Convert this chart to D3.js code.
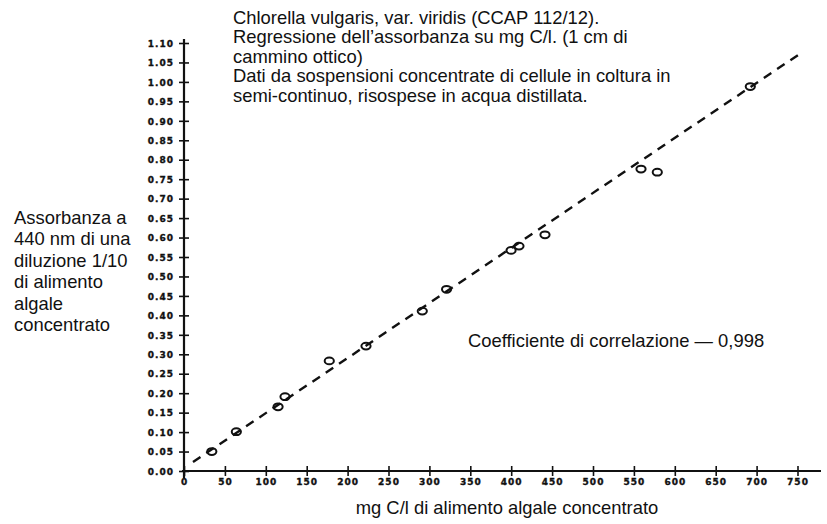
<!DOCTYPE html>
<html><head><meta charset="utf-8">
<script src="https://cdn.jsdelivr.net/npm/d3@7"></script>
<style>body{margin:0;background:#fff;}svg{display:block;}</style>
</head><body>
<script>
const carbon = [34, 64, 115, 123.5, 177.6, 222.5, 291.3, 321, 399.8, 409.5, 441.3, 558.7, 578.6, 692.3];
const absorbance = [0.050, 0.101, 0.165, 0.191, 0.283, 0.321, 0.411, 0.467, 0.567, 0.578, 0.607, 0.776, 0.768, 0.988];
const regressionX = [11, 750.6];
const regressionY = [0.023, 1.069];
const xTicks = d3.range(0, 751, 50);
const yTicks = d3.range(0, 23).map(i => i * 0.05);
const titleLines = ["Chlorella vulgaris, var. viridis (CCAP 112/12).",
  "Regressione dell\u2019assorbanza su mg C/l. (1 cm di",
  "cammino ottico)",
  "Dati da sospensioni concentrate di cellule in coltura in",
  "semi-continuo, risospese in acqua distillata."];
const yLabelLines = ["Assorbanza a", "440 nm di una", "diluzione 1/10", "di alimento", "algale", "concentrato"];
const xLabel = "mg C/l di alimento algale concentrato";
const corrLabel = "Coefficiente di correlazione \u2014 0,998";

const W = 827, H = 524;
const svg = d3.select("body").append("svg").attr("width", W).attr("height", H);
const x = d3.scaleLinear().domain([0, 750]).range([184, 797.5]);
const y = d3.scaleLinear().domain([0, 1.10]).range([471, 43]);
const tickFont = "'DejaVu Sans', sans-serif";

function styleTick(sel) {
  sel.style("font-family", tickFont).style("font-weight", "bold").style("font-size", "9px")
    .style("letter-spacing", "1px").attr("fill", "#111")
    .attr("stroke", "#111").attr("stroke-width", 0.35);
}

// axes
const yAxis = svg.append("g").attr("transform", "translate(184,0)")
  .call(d3.axisLeft(y).tickValues(yTicks).tickFormat(d3.format(".2f")).tickSize(5));
yAxis.select(".domain").remove();
yAxis.selectAll(".tick line").attr("x1", -5).attr("x2", 5).attr("stroke", "#111").attr("stroke-width", 1.6);
yAxis.selectAll(".tick text").attr("x", -10).attr("dy", "0.36em").call(styleTick);

const xAxis = svg.append("g").attr("transform", "translate(0,471)")
  .call(d3.axisBottom(x).tickValues(xTicks).tickFormat(d3.format("d")).tickSize(5));
xAxis.select(".domain").remove();
xAxis.selectAll(".tick line").attr("y1", -5).attr("y2", 5).attr("stroke", "#111").attr("stroke-width", 1.6);
xAxis.selectAll(".tick text").attr("y", 11).attr("dy", "0.36em").call(styleTick);

svg.append("line").attr("x1", 184).attr("x2", 184).attr("y1", 39).attr("y2", 478)
  .attr("stroke", "#111").attr("stroke-width", 2.2);
svg.append("line").attr("x1", 182).attr("x2", 821).attr("y1", 471).attr("y2", 471)
  .attr("stroke", "#111").attr("stroke-width", 2);

// regression line
svg.append("line")
  .attr("x1", x(regressionX[0])).attr("y1", y(regressionY[0]))
  .attr("x2", x(regressionX[1])).attr("y2", y(regressionY[1]))
  .attr("stroke", "#111").attr("stroke-width", 2.4).attr("stroke-dasharray", "9,7");

// points
svg.append("g").selectAll("ellipse").data(carbon.map((c, i) => [c, absorbance[i]])).join("ellipse")
  .attr("cx", d => x(d[0])).attr("cy", d => y(d[1]))
  .attr("rx", 4.6).attr("ry", 3.4)
  .attr("fill", "none").attr("stroke", "#111").attr("stroke-width", 2);

const textFont = "'Liberation Sans', Arial, sans-serif";
const fs = "18.4px";
svg.append("text").style("font-family", textFont).style("font-size", fs).attr("fill", "#111")
  .selectAll("tspan").data(titleLines).join("tspan")
  .attr("x", 233).attr("y", (d, i) => 23.5 + i * 19.5).text(d => d);

svg.append("text").style("font-family", textFont).style("font-size", fs).attr("fill", "#111")
  .selectAll("tspan").data(yLabelLines).join("tspan")
  .attr("x", 14).attr("y", (d, i) => 224 + i * 21.4).text(d => d);

svg.append("text").attr("x", 507).attr("y", 514).attr("text-anchor", "middle")
  .style("font-family", textFont).style("font-size", fs).attr("fill", "#111").text(xLabel);

svg.append("text").attr("x", 468).attr("y", 347)
  .style("font-family", textFont).style("font-size", fs).attr("fill", "#111").text(corrLabel);
</script>
</body></html>
